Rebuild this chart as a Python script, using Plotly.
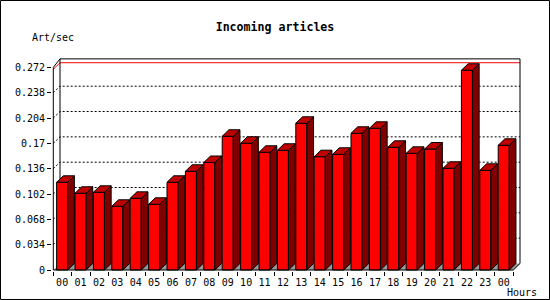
import plotly.graph_objects as go

# ---- data ----
hours = ["00", "01", "02", "03", "04", "05", "06", "07", "08", "09", "10", "11",
         "12", "13", "14", "15", "16", "17", "18", "19", "20", "21", "22", "23", "00"]
art_per_sec = [0.1177, 0.1030, 0.1043, 0.0855, 0.0962, 0.0882, 0.1177, 0.1325,
               0.1443, 0.1795, 0.1701, 0.1580, 0.1607, 0.1969, 0.1521, 0.1553,
               0.1835, 0.1902, 0.1647, 0.1566, 0.1624, 0.1365, 0.2681, 0.1338,
               0.1674]
y_ticks = [0, 0.034, 0.068, 0.102, 0.136, 0.17, 0.204, 0.238, 0.272]
y_tick_text = ["0", "0.034", "0.068", "0.102", "0.136", "0.17", "0.204", "0.238", "0.272"]
peak_line = 0.2695
y_top = 0.272

# ---- geometry / style ----
W, H = 550, 300
ML, MR, MT, MB = 52, 28, 58, 29
PX_X = 18.4          # pixels per category slot
PX_Y = 745.0         # pixels per unit of y
DX = 6.7 / PX_X      # 3d depth in x data units
DY = 6.5 / PX_Y      # 3d depth in y data units
TOP_DY = 8.5 / PX_Y  # depth of the top frame edge
BAR_L, BAR_W = -0.32, 0.6

plot_w = W - ML - MR
plot_h = H - MT - MB
x0r = -0.5 - 1.3 / PX_X
x_range = [x0r, x0r + plot_w / PX_X]
y0r = -1.0 / PX_Y
y_range = [y0r, y0r + plot_h / PX_Y]

n = len(art_per_sec)
xl, xr = -0.5, n - 0.5

RED = "#FF0000"
SIDE = "#800000"
TOP = "#C00000"
GREY = "#999999"
MONO = "DejaVu Sans Mono"

def px_to_paper_x(px):
    return (px - ML) / plot_w

def px_to_paper_y(py):
    return (H - MB - py) / plot_h

fig = go.Figure()

# floor
fig.add_trace(go.Scatter(
    x=[xl, xr, xr + DX, xl + DX, xl], y=[0, 0, DY, DY, 0],
    mode="lines", fill="toself", fillcolor=GREY, line=dict(width=0, color=GREY),
    hoverinfo="skip", showlegend=False))

# dotted grid lines (front diagonal + back wall)
gx, gy = [], []
for v in y_ticks[1:-1]:
    gx += [xl, xl + DX, xr + DX, None]
    gy += [v, v + DY, v + DY, None]
fig.add_trace(go.Scatter(x=gx, y=gy, mode="lines",
                         line=dict(color="black", width=1, dash="2px,2px"),
                         hoverinfo="skip", showlegend=False))

# red peak line
fig.add_trace(go.Scatter(x=[xl, xl + DX, xr + DX], y=[peak_line, peak_line + DY, peak_line + DY],
                         mode="lines", line=dict(color=RED, width=1),
                         hoverinfo="skip", showlegend=False))

# back frame
fig.add_trace(go.Scatter(
    x=[xl + DX, xl + DX, xr + DX, xr + DX, None, xl, xl + DX, None, xr, xr + DX],
    y=[DY, y_top + TOP_DY, y_top + TOP_DY, DY, None, y_top, y_top + TOP_DY, None, 0, DY],
    mode="lines", line=dict(color="black", width=1),
    hoverinfo="skip", showlegend=False))

# bars
fx, fy, sx, sy, tx, ty = [], [], [], [], [], []
for i, v in enumerate(art_per_sec):
    a = i + BAR_L
    b = a + BAR_W
    fx += [a, b, b, a, a, None]
    fy += [0, 0, v, v, 0, None]
    sx += [b, b + DX, b + DX, b, b, None]
    sy += [0, DY, v + DY, v, 0, None]
    tx += [a, b, b + DX, a + DX, a, None]
    ty += [v, v, v + DY, v + DY, v, None]
for xs, ys, col in [(fx, fy, RED), (sx, sy, SIDE), (tx, ty, TOP)]:
    fig.add_trace(go.Scatter(x=xs, y=ys, mode="lines", fill="toself", fillcolor=col,
                             line=dict(color="black", width=1),
                             hoverinfo="skip", showlegend=False))

# front axes
fig.add_trace(go.Scatter(x=[xl, xl, xr], y=[y_top, 0, 0], mode="lines",
                         line=dict(color="black", width=1),
                         hoverinfo="skip", showlegend=False))

fig.update_layout(
    width=W, height=H,
    margin=dict(l=ML, r=MR, t=MT, b=MB, pad=0),
    paper_bgcolor="white", plot_bgcolor="white",
    font=dict(family=MONO, size=10, color="black"),
    title=dict(text="<b>Incoming articles</b>", x=0.5, xref="container", xanchor="center",
               y=1 - 27 / H, yref="container", yanchor="middle",
               font=dict(family=MONO, size=11.6, color="black")),
    xaxis=dict(range=x_range, showgrid=False, zeroline=False, showline=False,
               tickmode="array", tickvals=[i + BAR_L + BAR_W / 2 for i in range(n)],
               ticktext=hours, ticks="", tickfont=dict(family=MONO, size=10),
               ticklabelstandoff=4,
               minor=dict(tickmode="array", tickvals=[i - 0.5 for i in range(n + 1)],
                          ticks="outside", ticklen=4, tickcolor="black", showgrid=False)),
    yaxis=dict(range=y_range, showgrid=False, zeroline=False, showline=False,
               tickmode="array", tickvals=y_ticks, ticktext=y_tick_text,
               ticks="outside", ticklen=4, tickcolor="black",
               tickfont=dict(family=MONO, size=10)),
    annotations=[
        dict(text="Art/sec", x=px_to_paper_x(30), y=px_to_paper_y(37.5), xref="paper", yref="paper",
             xanchor="left", yanchor="middle", showarrow=False, font=dict(family=MONO, size=10)),
        dict(text="Hours", x=px_to_paper_x(505), y=px_to_paper_y(292), xref="paper", yref="paper",
             xanchor="left", yanchor="middle", showarrow=False, font=dict(family=MONO, size=10)),
    ],
    shapes=[dict(type="rect", xref="paper", yref="paper",
                 x0=px_to_paper_x(0.5), x1=px_to_paper_x(549.5),
                 y0=px_to_paper_y(0.5), y1=px_to_paper_y(299.5),
                 line=dict(color="black", width=1), fillcolor="rgba(0,0,0,0)", layer="above")],
)

fig.write_html("out.html")
